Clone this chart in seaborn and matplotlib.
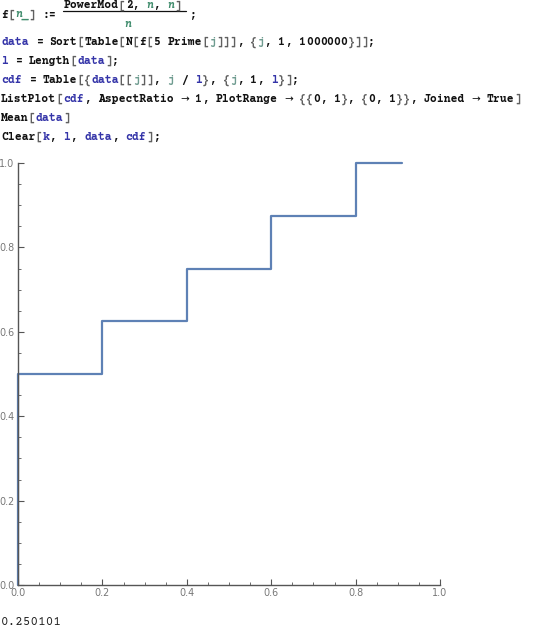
import re

import numpy as np
import matplotlib
matplotlib.use("Agg")
import matplotlib.pyplot as plt
from matplotlib.ticker import MultipleLocator
import seaborn as sns
import pandas as pd

# cdf step points
cdf_x = [0.0, 0.0, 0.2, 0.4, 0.6, 0.8, 0.91]
cdf_y = [0.0, 0.5, 0.625, 0.75, 0.875, 1.0, 1.0]
tick_vals = [0.0, 0.2, 0.4, 0.6, 0.8, 1.0]
tick_labels = ["0.0", "0.2", "0.4", "0.6", "0.8", "1.0"]
mean_text = "0.250101"

code_lines = [
    "data = Sort[Table[N[f[5 Prime[j]]], {j, 1, 1000000}]];",
    "l = Length[data];",
    "cdf = Table[{data[[j]], j / l}, {j, 1, l}];",
    "ListPlot[cdf, AspectRatio \u2192 1, PlotRange \u2192 {{0, 1}, {0, 1}}, Joined \u2192 True]",
    "Mean[data]",
    "Clear[k, l, data, cdf];",
]

W, H = 540, 632
CW = 6.93  # char width in px
MONO = ["Courier Prime", "Liberation Mono", "DejaVu Sans Mono"]
BLUE, GREEN, LOCAL, BR, BLACK = "#3434a8", "#3f8c6c", "#6f9c90", "#606060", "#111111"

sns.set_style("ticks")
fig = plt.figure(figsize=(W / 100, H / 100), dpi=100)


def put(x, y, s, color=BLACK, style="normal", family=MONO, size=8.3, weight="bold"):
    fig.text(x / W, 1 - y / H, s, color=color, family=family, fontsize=size,
             fontweight=weight, fontstyle=style, va="center", ha="left")


def code(x0, y, line):
    for m in re.finditer(r"[A-Za-z_]+|.", line):
        tok = m.group(0)
        x = x0 + m.start() * CW
        if tok in ("data", "l", "cdf", "k"):
            put(x, y, tok, BLUE)
        elif tok == "j":
            put(x, y, tok, LOCAL)
        elif tok in "[]{}":
            put(x, y, tok, BR)
        elif tok == "\u2192":
            put(x - 1, y, tok, family=["DejaVu Sans"], size=7.5, weight="normal")
        elif tok.strip():
            put(x, y, tok)


# first line with the fraction
put(1, 15, "f")
put(1 + CW, 15, "[", BR)
put(1 + 2 * CW, 15, "n_", GREEN, "italic")
put(1 + 4 * CW, 15, "]", BR)
put(1 + 6 * CW, 15, ":=")
num_x = 1 + 9 * CW
put(num_x, 5.5, "PowerMod")
put(num_x + 8 * CW, 5.5, "[", BR)
put(num_x + 9 * CW, 5.5, "2,")
put(num_x + 12 * CW, 5.5, "n", GREEN, "italic")
put(num_x + 13 * CW, 5.5, ",")
put(num_x + 15 * CW, 5.5, "n", GREEN, "italic")
put(num_x + 16 * CW, 5.5, "]", BR)
fig.add_artist(plt.Line2D([63 / W, 186 / W], [1 - 11 / H, 1 - 11 / H], color=BLACK, lw=0.9))
put(124, 24, "n", GREEN, "italic")
put(190, 15, ";")

for i, line in enumerate(code_lines):
    code(1, 42 + i * 19, line)

put(1, 622, mean_text, color="#222222", size=9.1, weight="normal")

# plot
ax = fig.add_axes([18 / W, 47 / H, 422 / W, 422 / H])
df = pd.DataFrame({"x": cdf_x, "y": cdf_y})
sns.lineplot(data=df, x="x", y="y", sort=False, estimator=None, ax=ax,
             drawstyle="steps-post", color="#5e81b5", lw=1.6, clip_on=False)
ax.set_xlim(0, 1); ax.set_ylim(0, 1)
ax.set_xticks(tick_vals, tick_labels); ax.set_yticks(tick_vals, tick_labels)
ax.xaxis.set_minor_locator(MultipleLocator(0.05)); ax.yaxis.set_minor_locator(MultipleLocator(0.05))
ax.set_xlabel(""); ax.set_ylabel("")
for s in ["top", "right"]:
    ax.spines[s].set_visible(False)
for s in ["left", "bottom"]:
    ax.spines[s].set_color("#555555"); ax.spines[s].set_linewidth(1.0)
ax.tick_params(which="major", direction="in", length=4.5, width=0.8, color="#555555",
               labelsize=6.9, labelcolor="#777777", pad=2.5)
ax.tick_params(which="minor", direction="in", length=2.5, width=0.6, color="#555555")
ax.patch.set_alpha(0)

fig.savefig("out.png", dpi=100)
